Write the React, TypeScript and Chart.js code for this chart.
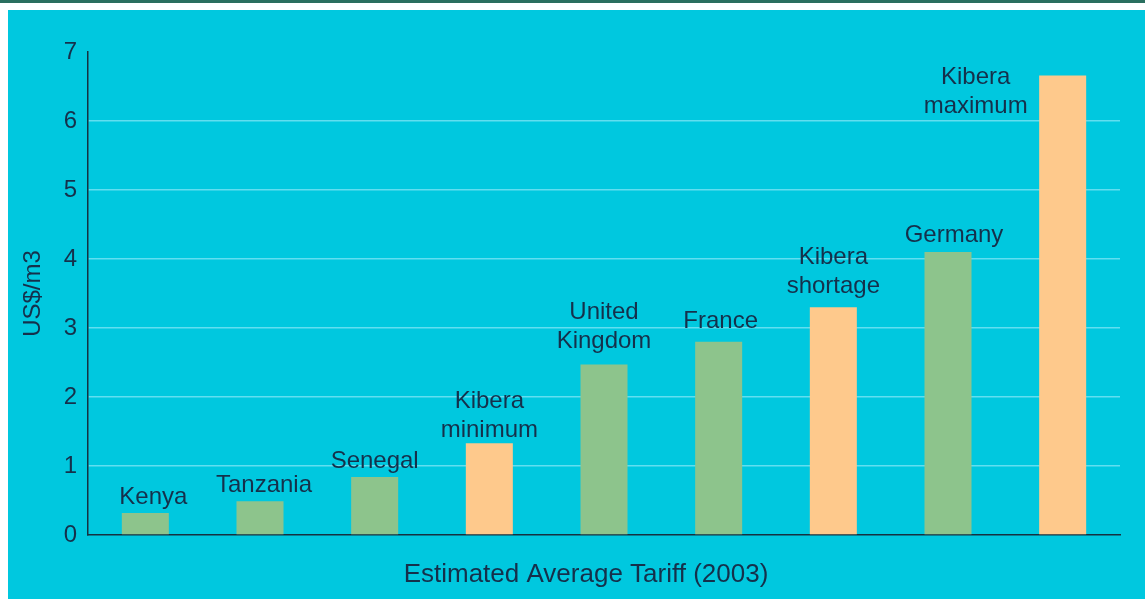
import React, { useEffect, useRef } from "react";
import { Chart, registerables } from "chart.js";

Chart.register(...registerables);

const categories = [
  "Kenya",
  "Tanzania",
  "Senegal",
  "Kibera minimum",
  "United Kingdom",
  "France",
  "Kibera shortage",
  "Germany",
  "Kibera maximum",
];
const labelLines = [
  ["Kenya"],
  ["Tanzania"],
  ["Senegal"],
  ["Kibera", "minimum"],
  ["United", "Kingdom"],
  ["France"],
  ["Kibera", "shortage"],
  ["Germany"],
  ["Kibera", "maximum"],
];
const tariffs = [0.32, 0.49, 0.84, 1.33, 2.47, 2.8, 3.3, 4.1, 6.66];
const yTicks = [0, 1, 2, 3, 4, 5, 6, 7];

const GREEN = "#8dc48c";
const ORANGE = "#fec98c";
const TEXT = "#15304b";
const FONT = "'Liberation Sans', Arial, Helvetica, sans-serif";

const labelShift: [number, number][] = [
  [8, 2],
  [4, 2],
  [0, 2],
  [0, 5],
  [0, -5],
  [2, -2],
  [0, -3],
  [6, 1],
  [-87, 49],
];

const labelPlugin = {
  id: "barLabels",
  afterDatasetsDraw(chart: any) {
    const { ctx } = chart;
    const meta = chart.getDatasetMeta(0);
    ctx.save();
    ctx.font = `24px ${FONT}`;
    ctx.fillStyle = TEXT;
    ctx.textAlign = "center";
    ctx.textBaseline = "middle";
    meta.data.forEach((bar: any, i: number) => {
      const lines = labelLines[i];
      const [dx, dy] = labelShift[i];
      const baseY = bar.y - 18 + dy;
      const lh = 29;
      lines.forEach((ln, j) => {
        const y = baseY - (lines.length - 1 - j) * lh;
        ctx.fillText(ln, bar.x + dx, y);
      });
    });
    // x-axis title
    const ca = chart.chartArea;
    ctx.font = `26px ${FONT}`;
    ctx.fillText("Estimated Average Tariff (2003)", (ca.left + ca.right) / 2 - 18, ca.bottom + 40);
    ctx.restore();
  },
};

export default function App() {
  const ref = useRef<HTMLCanvasElement>(null);
  useEffect(() => {
    if (!ref.current) return;
    const chart = new Chart(ref.current, {
      type: "bar",
      data: {
        labels: categories,
        datasets: [
          {
            data: tariffs,
            backgroundColor: categories.map((c) => (c.startsWith("Kibera") ? ORANGE : GREEN)),
            barPercentage: 0.41,
            categoryPercentage: 1,
            borderWidth: 0,
          },
        ],
      },
      options: {
        animation: false,
        responsive: false,
        layout: { padding: { left: 0, right: 25, top: 42, bottom: 64 } },
        plugins: {
          legend: { display: false },
          tooltip: { enabled: false },
          title: { display: false },
        },
        scales: {
          x: {
            grid: { display: false },
            ticks: { display: false },
            border: { display: true, color: "#163040", width: 1.5 },
            afterFit: (s: any) => {
              s.height = 0;
            },
          },
          y: {
            min: 0,
            max: 7,
            afterBuildTicks: (s: any) => {
              s.ticks = yTicks.map((v) => ({ value: v }));
            },
            ticks: {
              color: TEXT,
              font: { family: FONT, size: 24 },
              padding: 11,
            },
            grid: {
              drawTicks: false,
              color: (c: any) =>
                c.tick && (c.tick.value === 0 || c.tick.value === 7) ? "rgba(0,0,0,0)" : "#62def0",
              lineWidth: 1.5,
            },
            border: { display: true, color: "#163040", width: 1.5 },
            title: {
              display: true,
              text: "US$/m3",
              color: TEXT,
              font: { family: FONT, size: 24 },
              padding: { top: 11, bottom: 0 },
            },
            afterFit: (s: any) => {
              s.width = 80;
            },
          },
        },
      },
      plugins: [labelPlugin],
    });
    return () => chart.destroy();
  }, []);

  return (
    <div
      style={{
        position: "absolute",
        left: 0,
        top: 0,
        width: 1145,
        height: 599,
        background: "#ffffff",
        overflow: "hidden",
      }}
    >
      <div style={{ position: "absolute", left: 0, top: 0, width: 1145, height: 3, background: "#2a6f5f" }} />
      <div
        style={{
          position: "absolute",
          left: 8,
          top: 10,
          width: 1137,
          height: 589,
          background: "#00c8df",
        }}
      >
        <canvas ref={ref} width={1137} height={589} style={{ display: "block" }} />
      </div>
    </div>
  );
}
